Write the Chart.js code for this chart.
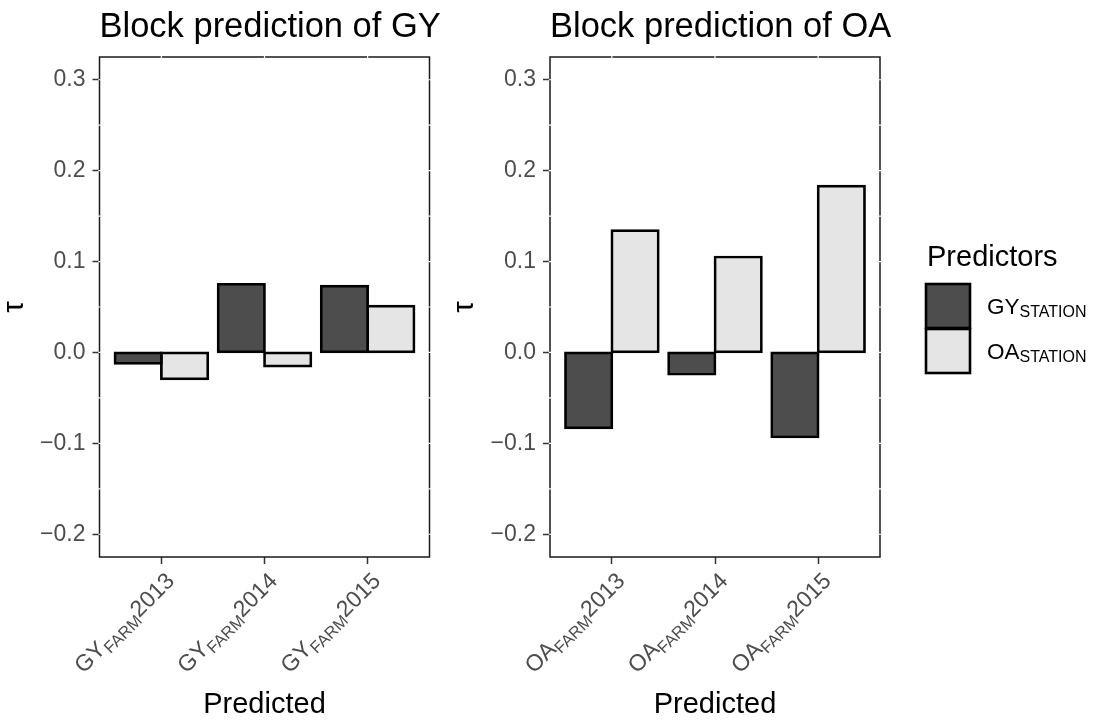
<!DOCTYPE html>
<html>
<head>
<meta charset="utf-8">
<script src="https://cdn.jsdelivr.net/npm/chart.js@4.4.1/dist/chart.umd.min.js"></script>
<style>
  html, body { margin: 0; padding: 0; background: #ffffff; }
  #wrap { position: relative; width: 1097px; height: 723px; overflow: hidden; }
  #c1 { position: absolute; left: 0; top: 0; }
  #c2 { position: absolute; left: 450px; top: 0; }
</style>
</head>
<body>
<div id="wrap">
  <canvas id="c1" width="450" height="723"></canvas>
  <canvas id="c2" width="647" height="723"></canvas>
</div>
<script>
// ---- data ----
const years = ['2013', '2014', '2015'];
const predictorNames = ['GY', 'OA'];
const predictorSub = 'STATION';
const predictedSub = 'FARM';

// tau for predicting GY on farm, per predictor measured on station
const gyByGY = [-0.012, 0.075, 0.073];
const gyByOA = [-0.029, -0.015, 0.051];
// tau for predicting OA on farm
const oaByGY = [-0.083, -0.024, -0.093];
const oaByOA = [0.134, 0.105, 0.183];

const yTicks = [-0.2, -0.1, 0.0, 0.1, 0.2, 0.3];
const yGrid = [-0.2, -0.15, -0.1, -0.05, 0.0, 0.05, 0.1, 0.15, 0.2, 0.25, 0.3];

const fills = ['#4d4d4d', '#e5e5e5'];
const FONT = '"Liberation Sans", Arial, Helvetica, sans-serif';

function fmtTick(v) {
  const r = Math.round(v * 10) / 10;
  return (r < 0 ? '\u2212' : '') + Math.abs(r).toFixed(1);
}

// draw "MAIN" followed by a lowered smaller "SUB" and an optional tail
function drawSubText(ctx, x, y, main, sub, tail, size, subSize, drop) {
  ctx.font = size + 'px ' + FONT;
  ctx.fillText(main, x, y);
  x += ctx.measureText(main).width;
  ctx.font = subSize + 'px ' + FONT;
  ctx.fillText(sub, x, y + drop);
  x += ctx.measureText(sub).width;
  if (tail) {
    ctx.font = size + 'px ' + FONT;
    ctx.fillText(tail, x, y);
  }
}
function subTextWidth(ctx, main, sub, tail, size, subSize) {
  ctx.font = size + 'px ' + FONT;
  let w = ctx.measureText(main).width + (tail ? ctx.measureText(tail).width : 0);
  ctx.font = subSize + 'px ' + FONT;
  return w + ctx.measureText(sub).width;
}

// panel frame, plot title, subscripted category labels and the legend
const panelDecor = {
  id: 'panelDecor',
  afterDraw(chart, args, opts) {
    const { ctx, chartArea: a, scales: { x, y } } = chart;
    ctx.save();

    // panel border
    ctx.strokeStyle = '#1a1a1a';
    ctx.lineWidth = 1.5;
    ctx.strokeRect(a.left, a.top, a.right - a.left, a.bottom - a.top);

    // white grid lines break the border where they meet it
    ctx.strokeStyle = '#ffffff';
    ctx.lineWidth = 1.2;
    ctx.beginPath();
    yGrid.forEach(v => {
      const py = y.getPixelForValue(v);
      ctx.moveTo(a.left - 1.2, py); ctx.lineTo(a.left + 1.2, py);
      ctx.moveTo(a.right - 1.2, py); ctx.lineTo(a.right + 1.2, py);
    });
    x.ticks.forEach(t => {
      const px = x.getPixelForValue(t.value);
      ctx.moveTo(px, a.top - 1.2); ctx.lineTo(px, a.top + 1.2);
    });
    ctx.stroke();

    // plot title
    ctx.fillStyle = '#000000';
    ctx.font = '34.5px ' + FONT;
    ctx.textAlign = 'left';
    ctx.textBaseline = 'alphabetic';
    ctx.fillText(opts.title, a.left, 37);

    // rotated category labels with subscript
    ctx.fillStyle = '#4d4d4d';
    x.ticks.forEach((t, i) => {
      const px = x.getPixelForValue(t.value);
      ctx.save();
      ctx.translate(px, a.bottom + 11);
      ctx.rotate(-Math.PI / 4);
      const w = subTextWidth(ctx, opts.main, predictedSub, years[i], 23, 16.5);
      drawSubText(ctx, -w, 20, opts.main, predictedSub, years[i], 23, 16.5, 5);
      ctx.restore();
    });

    // legend
    if (opts.legend) {
      const ox = opts.legend.x, oy = opts.legend.y;
      ctx.fillStyle = '#000000';
      ctx.font = '29px ' + FONT;
      ctx.fillText('Predictors', ox + 1, oy);
      chart.data.datasets.forEach((ds, i) => {
        const by = oy + 18 + i * 45;
        ctx.fillStyle = ds.backgroundColor;
        ctx.fillRect(ox, by, 44, 44);
        ctx.strokeStyle = '#000000';
        ctx.lineWidth = 2.6;
        ctx.strokeRect(ox, by, 44, 44);
        ctx.fillStyle = '#000000';
        drawSubText(ctx, ox + 61, by + 29.5, predictorNames[i], predictorSub, '', 22.5, 16, 3);
      });
    }
    ctx.restore();
  }
};

function makeChart(id, valsGY, valsOA, title, main, axisWidth, padRight, legend) {
  const datasets = [valsGY, valsOA].map((vals, k) => ({
    label: predictorNames[k] + predictorSub,
    data: vals.map((v, i) => ({ x: i + 1, y: v })),
    backgroundColor: fills[k],
    borderColor: '#000000',
    borderWidth: 2.7,
    borderSkipped: false,
    inflateAmount: 1.35,
    categoryPercentage: 0.9,
    barPercentage: 1.0
  }));
  return new Chart(document.getElementById(id), {
    type: 'bar',
    data: { datasets },
    plugins: [panelDecor],
    options: {
      responsive: false,
      animation: false,
      events: [],
      layout: { padding: { top: 57, right: padRight, bottom: 0, left: 0 } },
      plugins: {
        legend: { display: false },
        tooltip: { enabled: false },
        panelDecor: { title, main, legend }
      },
      scales: {
        x: {
          type: 'linear',
          min: 0.4,
          max: 3.6,
          bounds: 'data',
          offset: false,
          afterBuildTicks: s => { s.ticks = years.map((_, i) => ({ value: i + 1 })); },
          afterFit: s => { s.height = 166; },
          ticks: { callback: () => '', autoSkip: false, maxRotation: 0 },
          grid: { offset: false, drawOnChartArea: false, drawTicks: true, tickLength: 7, tickColor: '#333333', tickWidth: 1.5 },
          border: { display: false },
          title: {
            display: true, text: 'Predicted', color: '#000000',
            font: { family: FONT, size: 29, lineHeight: 1 },
            padding: { top: 0, bottom: 4 }
          }
        },
        y: {
          min: -0.225,
          max: 0.325,
          bounds: 'data',
          afterBuildTicks: s => { s.ticks = yTicks.map(v => ({ value: v })); },
          afterFit: s => { s.width = axisWidth; },
          ticks: { callback: v => fmtTick(v), color: '#4d4d4d', font: { family: FONT, size: 23 }, padding: 7 },
          grid: { drawOnChartArea: false, drawTicks: true, tickLength: 7, tickColor: '#333333', tickWidth: 1.5 },
          border: { display: false },
          title: {
            display: true, text: '\u03C4', color: '#000000',
            font: { family: FONT, size: 29, lineHeight: 1 },
            padding: 0
          }
        }
      }
    }
  });
}

makeChart('c1', gyByGY, gyByOA, 'Block prediction of GY', 'GY', 99.5, 20.5, null);
makeChart('c2', oaByGY, oaByOA, 'Block prediction of OA', 'OA', 100, 217, { x: 476, y: 266 });
</script>
</body>
</html>
